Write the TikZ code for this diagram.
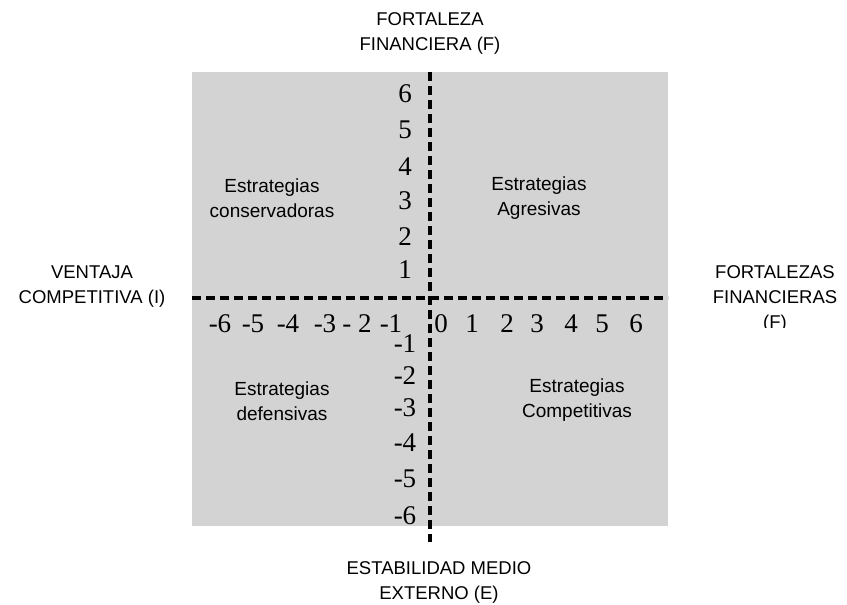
\documentclass[tikz,border=0pt]{standalone}
\usepackage{fontspec}
\setmainfont{Liberation Sans}
\newfontfamily\numfont{Liberation Serif}
\definecolor{panelgray}{RGB}{211,211,211}
\begin{document}
\begin{tikzpicture}[
  x=1pt,y=-1pt,
  axis/.style={line width=4.5pt,dash pattern=on 9pt off 5pt},
  axislabel/.style={align=center,inner sep=0pt,font=\fontsize{18.5}{25}\selectfont},
  quadlabel/.style={align=center,inner sep=0pt,font=\fontsize{19}{25}\selectfont},
  tick/.style={inner sep=0pt,font=\numfont\fontsize{27}{27}\selectfont}
]
\useasboundingbox (0,0) rectangle (847,605);
\fill[panelgray] (192,72) rectangle (668,526);

\coordinate (west) at (192,298);
\coordinate (east) at (668,298);
\coordinate (north) at (430,72);
\coordinate (south) at (430,542);
\draw[axis] (west) -- (east);
\draw[axis] (north) -- (south);

\foreach \v/\x [count=\i] in {-6/220,-5/253,-4/288,-3/325,- 2/357,-1/391,0/441,1/472,2/507,3/537,4/571,5/602,6/636}
  \node[tick] (hx\i) at (\x,324) {\v};
\foreach \v/\y [count=\i] in {6/94,5/130,4/167,3/201,2/237,1/270,-1/344,-2/376,-3/408,-4/443,-5/479,-6/516}
  \node[tick] (vy\i) at (405,\y) {\v};

\node[axislabel] (ff) at (430,33) {FORTALEZA\\FINANCIERA (F)};
\node[axislabel] (vc) at (92,287) {VENTAJA\\COMPETITIVA (I)};
\node[axislabel] (ee) at (439,582) {ESTABILIDAD MEDIO\\EXTERNO (E)};
\begin{scope}
  \clip (680,250) rectangle (847,327);
  \node[axislabel,anchor=north] (fi) at (775,265) {FORTALEZAS\\FINANCIERAS\\(F)};
\end{scope}

\node[quadlabel] (cons) at (272,198) {Estrategias\\conservadoras};
\node[quadlabel] (agr) at (539,198) {Estrategias\\Agresivas};
\node[quadlabel] (def) at (282,401) {Estrategias\\defensivas};
\node[quadlabel] (comp) at (577,400) {Estrategias\\Competitivas};
\end{tikzpicture}
\end{document}
